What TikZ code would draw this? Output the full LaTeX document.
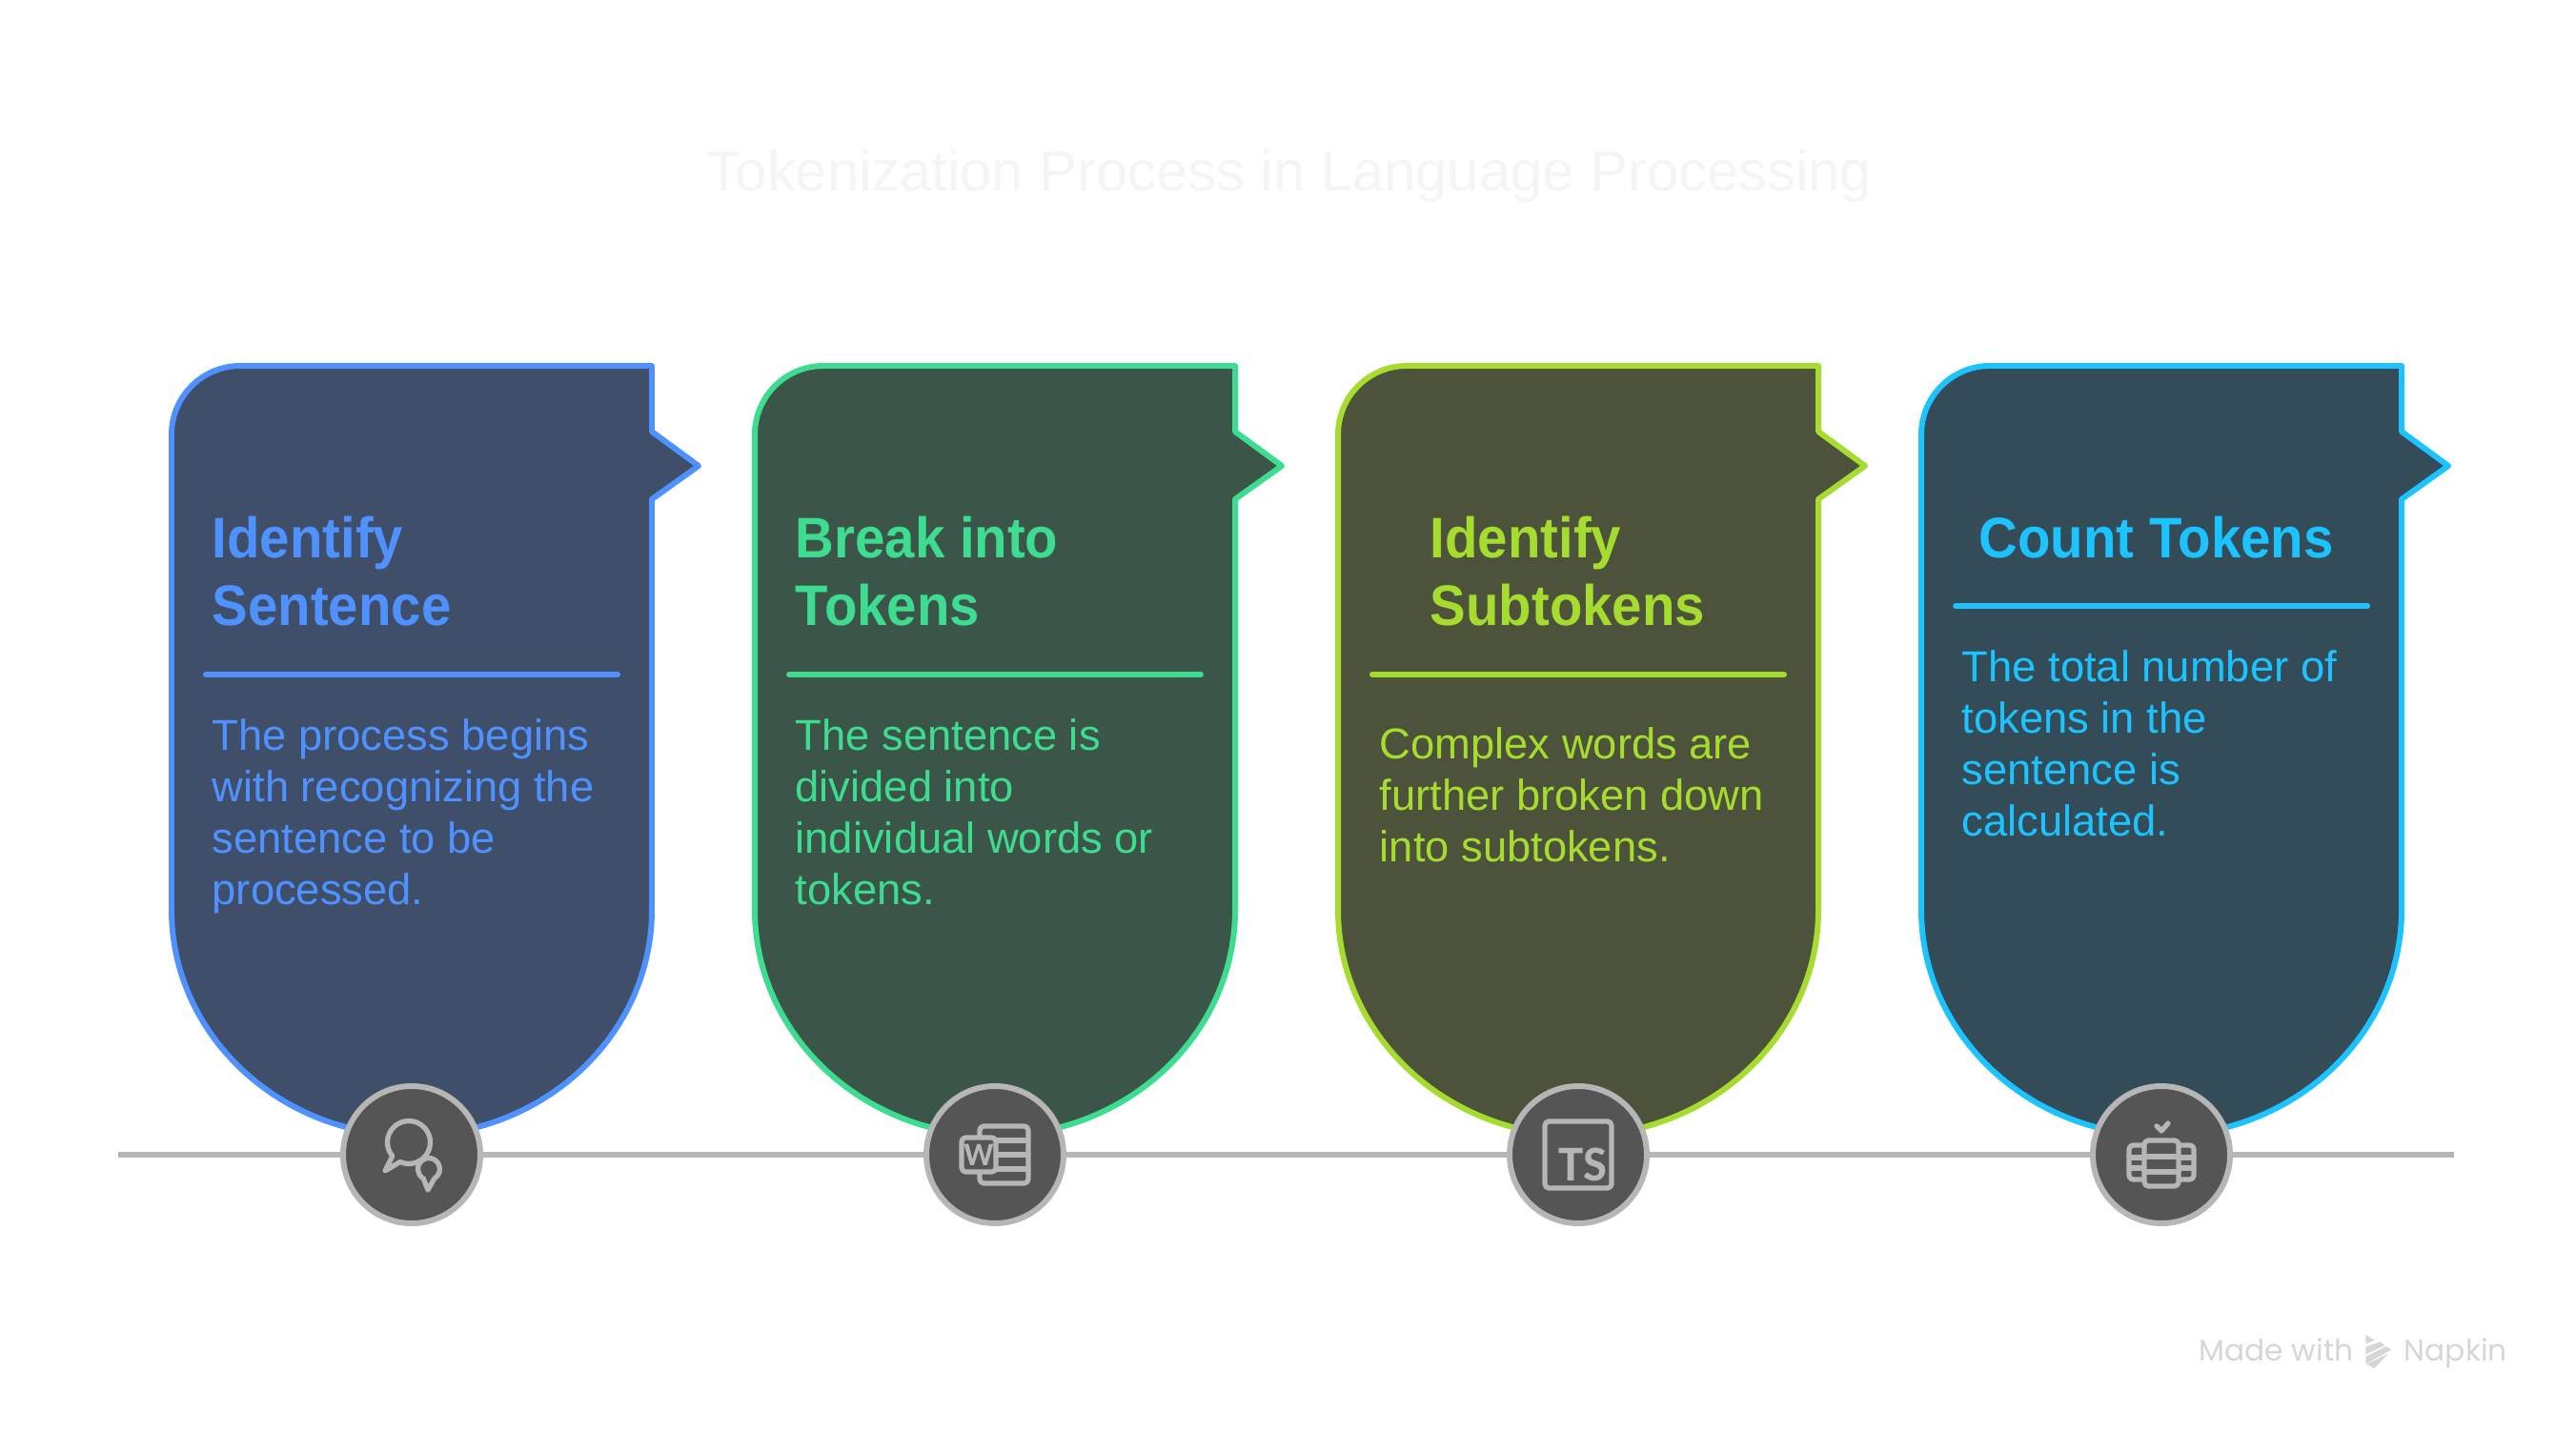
\documentclass[tikz,border=0pt]{standalone}
\usepackage{fontspec}
\setmainfont{Liberation Sans}
\newfontfamily\boldcard[FakeStretch=0.94]{Liberation Sans Bold}
\newfontfamily\iconfont{Carlito Bold}
\newfontfamily\brandfont{Poppins}
\usepackage{xcolor}
\usetikzlibrary{calc}

\definecolor{blueLine}{HTML}{4F91FF}
\definecolor{blueFill}{HTML}{3F4F69}
\definecolor{greenLine}{HTML}{3DDC91}
\definecolor{greenFill}{HTML}{3B5648}
\definecolor{limeLine}{HTML}{A6DC2F}
\definecolor{limeFill}{HTML}{4C533A}
\definecolor{cyanLine}{HTML}{1CC3FF}
\definecolor{cyanFill}{HTML}{344C58}
\definecolor{badgeGrey}{HTML}{555555}
\definecolor{lineGrey}{HTML}{B6B6B6}

% one card outline, shifted along x
\newcommand{\cardoutline}[3]{
\draw[cardbox, xshift=#1cm, draw=#2, fill=#3] (2.52,11.17) -- (6.84,11.17) -- (6.84,10.48) -- (7.33,10.12) -- (6.84,9.77) -- (6.84,5.46)
    arc[start angle=0, end angle=-180, x radius=2.52, y radius=2.37] -- (1.80,10.45) arc[start angle=180, end angle=90, radius=0.72] -- cycle;
}

\begin{document}
\begin{tikzpicture}[
    cardbox/.style={line width=1.7pt, line join=round},
    titletext/.style={anchor=north west, inner sep=0pt, align=left, font=\boldcard\fontsize{17.07}{20.35}\selectfont},
    bodytext/.style={anchor=north west, inner sep=0pt, align=left, font=\fontsize{12.9}{15.37}\selectfont},
    divider/.style={line width=1.7pt, line cap=round},
    timeline/.style={line width=1.7pt, color=lineGrey},
    badge/.style={circle, draw=lineGrey, fill=badgeGrey, line width=1.7pt, minimum size=1.44cm, inner sep=0pt},
    iconline/.style={draw=lineGrey, line width=1.5pt, line join=round, line cap=round},
    iconfill/.style={iconline, fill=badgeGrey, rounded corners=1.2pt},
    icontext/.style={inner sep=0pt, text=lineGrey}
]
\useasboundingbox (0,0) rectangle (27.03,15.01);

% Heading and footer
\node[font=\fontsize{17}{20}\selectfont, text=black!4, anchor=base, inner sep=0pt] (heading) at (13.53,13.00) {Tokenization Process in Language Processing};
\node[font=\brandfont\fontsize{8.9}{10}\selectfont, text=black!16, anchor=base west, inner sep=0pt] (madewith) at (23.07,0.73) {Made with};
\node[font=\brandfont\fontsize{8.9}{10}\selectfont, text=black!16, anchor=base west, inner sep=0pt] (napkin) at (25.22,0.73) {Napkin};
\begin{scope}[shift={(22.80,1.21)}, x=0.00333cm, y=-0.00333cm, fill=black!16]
\fill (608,63) -- (636,80) -- (608,92) -- cycle;
\fill (608,102) -- (655,85) -- (668,97) -- (608,125) -- cycle;
\fill (608,132) -- (672,100) -- (690,110) -- (608,155) -- cycle;
\fill (612,155) -- (680,122) -- (634,170) -- cycle;
\end{scope}

% Cards
\cardoutline{0}{blueLine}{blueFill}
\cardoutline{6.12}{greenLine}{greenFill}
\cardoutline{12.24}{limeLine}{limeFill}
\cardoutline{18.36}{cyanLine}{cyanFill}

% Card titles
\node[titletext, text=blueLine] (titleA) at (2.22,9.60) {Identify\\Sentence};
\node[titletext, text=greenLine] (titleB) at (8.34,9.60) {Break into\\Tokens};
\node[titletext, text=limeLine] (titleC) at (15.00,9.60) {Identify\\Subtokens};
\node[titletext, text=cyanLine] (titleD) at (20.76,9.60) {Count Tokens};

% Dividers
\coordinate (ruleAl) at (2.16,7.93);
\coordinate (ruleAr) at (6.48,7.93);
\coordinate (ruleBl) at (8.28,7.93);
\coordinate (ruleBr) at (12.60,7.93);
\coordinate (ruleCl) at (14.40,7.93);
\coordinate (ruleCr) at (18.72,7.93);
\coordinate (ruleDl) at (20.52,8.65);
\coordinate (ruleDr) at (24.84,8.65);
\draw[divider, color=blueLine] (ruleAl) -- (ruleAr);
\draw[divider, color=greenLine] (ruleBl) -- (ruleBr);
\draw[divider, color=limeLine] (ruleCl) -- (ruleCr);
\draw[divider, color=cyanLine] (ruleDl) -- (ruleDr);

% Card texts
\node[bodytext, text=blueLine] (bodyA) at (2.22,7.47) {The process begins\\with recognizing the\\sentence to be\\processed.};
\node[bodytext, text=greenLine] (bodyB) at (8.34,7.47) {The sentence is\\divided into\\individual words or\\tokens.};
\node[bodytext, text=limeLine] (bodyC) at (14.47,7.38) {Complex words are\\further broken down\\into subtokens.};
\node[bodytext, text=cyanLine] (bodyD) at (20.58,8.19) {The total number of\\tokens in the\\sentence is\\calculated.};

% Timeline and badges
\coordinate (lineStart) at (1.24,2.89);
\coordinate (lineEnd) at (25.75,2.89);
\draw[timeline] (lineStart) -- (lineEnd);
\node[badge] (badgeA) at (4.32,2.89) {};
\node[badge] (badgeB) at (10.44,2.89) {};
\node[badge] (badgeC) at (16.56,2.89) {};
\node[badge] (badgeD) at (22.68,2.89) {};

% Speech bubbles
\begin{scope}[shift={(badgeA)}, x=0.01cm, y=0.01cm]
\draw[iconline] ($(-3,13)+(246:22.5)$) arc[start angle=246, end angle=580, radius=22.5] -- (-28,-17) -- cycle;
\draw[iconline] ($(18,-15)+(300:11.5)$) arc[start angle=300, end angle=600, radius=11.5] -- (17,-37) -- cycle;
\end{scope}

% Word sheet
\begin{scope}[shift={(badgeB)}, x=0.01cm, y=0.01cm]
\draw[iconfill] (-16,-30) rectangle (35,30);
\draw[iconline] (2,15) -- (35,15);
\draw[iconline] (2,0) -- (35,0);
\draw[iconline] (2,-15) -- (35,-15);
\draw[iconfill] (-35,-18) rectangle (1,18);
\node[icontext, font=\iconfont\fontsize{9.8}{10}\selectfont] (wordW) at (-17,0) {W};
\end{scope}

% TS square
\begin{scope}[shift={(badgeC)}, x=0.01cm, y=0.01cm]
\draw[iconfill] (-35,-35) rectangle (35,35);
\node[icontext, font=\iconfont\fontsize{15}{16}\selectfont] (tsText) at (5,-10) {TS};
\end{scope}

% Film strip with tick
\begin{scope}[shift={(badgeD)}, x=0.01cm, y=0.01cm]
\draw[iconline] (-5,30) -- (0,25) -- (7,33);
\draw[iconfill] (-34,-26) rectangle (34,10);
\draw[iconline] (-34,-3) -- (34,-3);
\draw[iconline] (-34,-14) -- (34,-14);
\draw[iconfill] (-18,-33) rectangle (18,15);
\draw[iconline] (-18,-2) -- (18,-2);
\draw[iconline] (-18,-18) -- (18,-18);
\end{scope}

\end{tikzpicture}
\end{document}
